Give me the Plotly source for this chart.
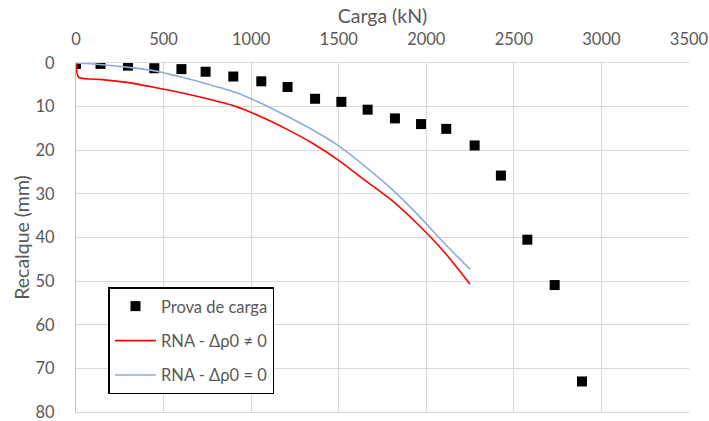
import plotly.graph_objects as go

# Prova de carga (load test)
carga_prova = [0, 140, 297, 447, 602, 740, 898, 1058, 1208, 1365, 1515, 1665, 1821, 1970, 2114, 2276, 2426, 2577, 2733, 2889]
recalque_prova = [0.2, 0.2, 0.6, 1.2, 1.4, 2.0, 3.1, 4.2, 5.5, 8.2, 8.9, 10.7, 12.7, 14.0, 15.1, 18.9, 25.8, 40.5, 50.9, 73.0]

# RNA - Δρ0 ≠ 0
carga_rna1 = [0, 15, 150, 300, 450, 600, 750, 900, 1050, 1200, 1350, 1500, 1650, 1800, 1950, 2100, 2250]
recalque_rna1 = [0, 3.3, 3.8, 4.5, 5.6, 6.8, 8.2, 9.8, 12.2, 15.1, 18.4, 22.3, 26.9, 31.4, 36.9, 43.2, 50.7]

# RNA - Δρ0 = 0
carga_rna2 = [0, 150, 300, 450, 600, 750, 900, 1050, 1200, 1350, 1500, 1650, 1800, 1950, 2100, 2250]
recalque_rna2 = [0, 0.4, 1.0, 1.8, 3.2, 4.8, 6.6, 9.1, 12.1, 15.3, 19.0, 23.7, 28.8, 34.7, 41.2, 47.3]

FONT = "Lato"
GRAY = "#595959"
GRID = "#d9d9d9"

fig = go.Figure()
fig.add_trace(go.Scatter(
    x=carga_prova, y=recalque_prova, mode="markers", name="Prova de carga",
    marker=dict(symbol="square", size=10, color="black"), legendgroup="a"))
fig.add_trace(go.Scatter(
    x=carga_rna1, y=recalque_rna1, mode="lines", name="RNA - Δρ0 ≠ 0",
    line=dict(color="#ff0000", width=1.6, shape="spline", smoothing=0.6), legendgroup="b"))
fig.add_trace(go.Scatter(
    x=carga_rna2, y=recalque_rna2, mode="lines", name="RNA - Δρ0 = 0",
    line=dict(color="#8faadc", width=1.6, shape="spline", smoothing=0.6), legendgroup="c"))

fig.update_layout(
    width=709, height=421,
    margin=dict(l=76, r=20, t=63, b=9),
    paper_bgcolor="white", plot_bgcolor="white",
    font=dict(family=FONT, size=16.5, color=GRAY),
    xaxis=dict(
        side="top", range=[0, 3500], dtick=500, tick0=0,
        showgrid=True, gridcolor=GRID, gridwidth=1.3,
        zeroline=False, showline=True, linecolor=GRID, linewidth=1.3, mirror=True,
        automargin=False,
        ticks="", ticklabelstandoff=10, ticklabeloverflow="allow",
        tickfont=dict(size=16.5, color=GRAY),
        title=dict(text="Carga (kN)", font=dict(size=19.5, color=GRAY), standoff=0),
    ),
    yaxis=dict(
        range=[80, 0], dtick=10, tick0=0,
        showgrid=True, gridcolor=GRID, gridwidth=1.3,
        zeroline=False, showline=True, linecolor="#bfbfbf", linewidth=1.3,
        automargin=False,
        ticks="", ticklabelstandoff=17, ticklabeloverflow="allow",
        tickfont=dict(size=16.5, color=GRAY),
        title=dict(text="Recalque (mm)", font=dict(size=19.5, color=GRAY), standoff=0),
    ),
    legend=dict(
        x=0.053, y=0.357, xanchor="left", yanchor="top",
        bgcolor="white", bordercolor="black", borderwidth=1.5,
        font=dict(size=16.5, color=GRAY), tracegroupgap=10, itemwidth=41,
    ),
    showlegend=True,
)

fig.write_html(
    "out.html",
    config={"displayModeBar": False},
    post_script="document.body.style.margin='0';document.body.style.overflow='hidden';",
)
